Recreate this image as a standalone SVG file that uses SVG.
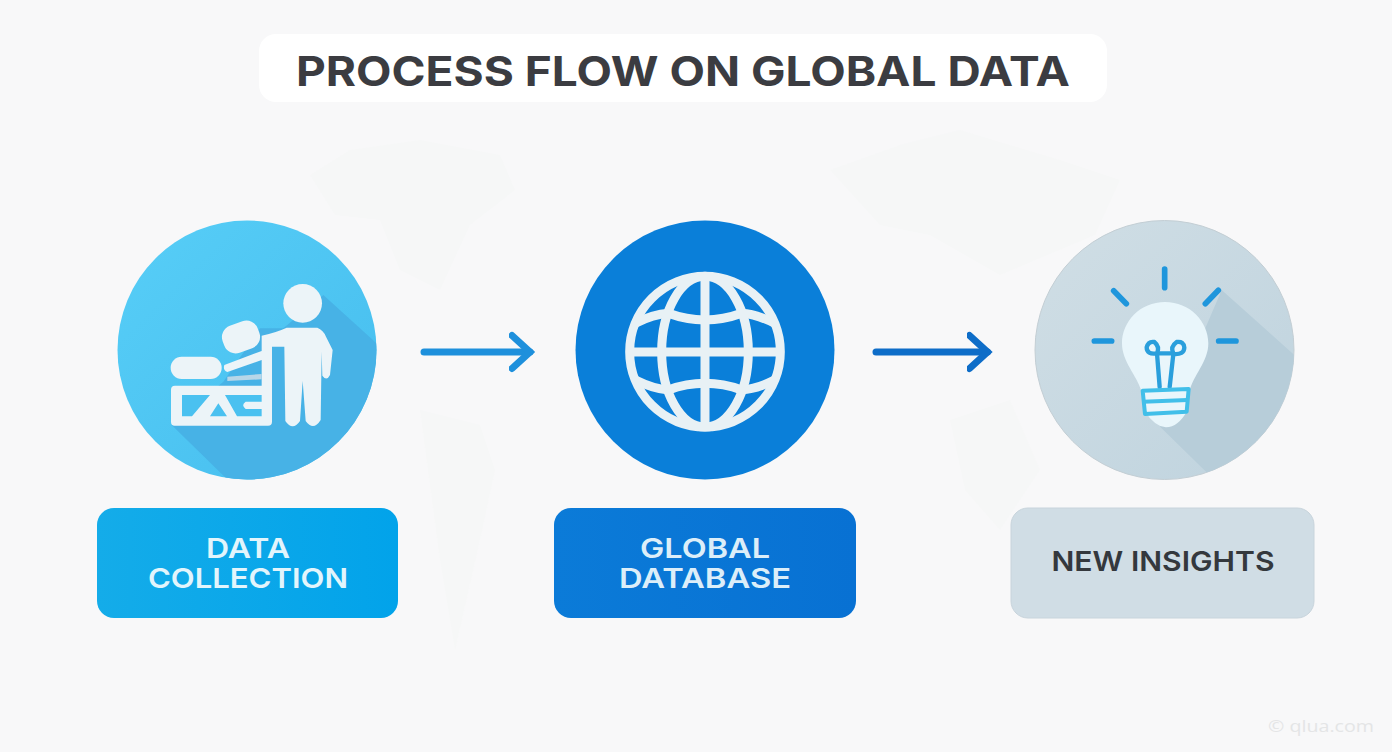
<svg xmlns="http://www.w3.org/2000/svg" width="1392" height="752" viewBox="0 0 1392 752">
<style>
.lbl{font-family:"Inter","Liberation Sans",sans-serif;font-weight:600;font-size:27.5px;text-anchor:middle}
.ic{fill:#ecf4f8}
.conn{fill:none;stroke-linecap:round}
</style>
<defs>
<linearGradient id="g1" x1="0" y1="0" x2="1" y2="1"><stop offset="0" stop-color="#57cef7"/><stop offset="1" stop-color="#46bdee"/></linearGradient>
<linearGradient id="g3" x1="0" y1="0" x2="1" y2="1"><stop offset="0" stop-color="#d0dee5"/><stop offset="1" stop-color="#bfd3de"/></linearGradient>
<linearGradient id="r1" x1="0" y1="0" x2="1" y2="0"><stop offset="0" stop-color="#14ace9"/><stop offset="1" stop-color="#02a3ea"/></linearGradient>
<linearGradient id="r2" x1="0" y1="0" x2="1" y2="0"><stop offset="0" stop-color="#0b7bd8"/><stop offset="1" stop-color="#0871d3"/></linearGradient>
<clipPath id="c1"><circle cx="247" cy="350" r="129.5"/></clipPath>
<clipPath id="c3"><circle cx="1164.5" cy="350" r="129.5"/></clipPath>
<marker id="ah" markerUnits="userSpaceOnUse" markerWidth="40" markerHeight="50" refX="21" refY="25" orient="auto"><path d="M3,8.5 L21,25 L3,41.5" fill="none" stroke="context-stroke" stroke-width="7" stroke-linecap="round" stroke-linejoin="miter"/></marker>
</defs>
<rect width="1392" height="752" fill="#f8f8f9"/>
<g id="map" fill="#f6f7f7">
<path d="M310,175 L350,150 L420,140 L500,155 L515,190 L470,225 L440,290 L400,270 L380,220 L335,215Z"/>
<path d="M420,410 L480,425 L495,470 L480,540 L455,650 L440,560Z"/>
<path d="M830,170 L900,145 L960,130 L1060,160 L1120,180 L1095,235 L1000,275 L930,235 L880,225Z"/>
<path d="M950,420 L1010,400 L1040,470 L1000,530 L965,490Z"/>
</g>
<g id="title">
<rect x="259" y="34" width="848" height="68" rx="17" fill="#fff"/>
<text x="683" y="86" text-anchor="middle" textLength="774" lengthAdjust="spacingAndGlyphs" font-family="Inter,'Liberation Sans',sans-serif" font-weight="700" font-size="41" fill="#3b3c41">PROCESS FLOW ON GLOBAL DATA</text>
</g>
<g id="connectors" class="conn">
<path d="M424,352 H530" stroke="#1e90dc" stroke-width="7" marker-end="url(#ah)"/>
<path d="M876,352 H987.5" stroke="#0e6dc8" stroke-width="7" marker-end="url(#ah)"/>
</g>
<g id="node-data-collection">
<circle cx="247" cy="350" r="129.5" fill="url(#g1)"/>
<g clip-path="url(#c1)"><g transform="translate(110 215) scale(.33333)">
<path d="M640,240 L860,440 L860,860 L420,860 L185,630 L340,500 L450,340 L520,340Z" fill="#47b2e6"/>
<circle cx="578" cy="265" r="58" class="ic"/>
<path d="M455,362 Q500,352 530,338 H622 Q640,345 648,365 L668,405 L660,480 Q650,500 637,482 L635,410 L632,615 Q610,650 587,618 L578,498 L570,618 Q548,650 526,618 L523,395 H486 V620 Q486,632 474,632 H194 Q183,632 183,620 V524 Q183,512 195,512 H455 V435 L352,471 Q338,465 343,450 L455,408Z" class="ic"/>
<path d="M216,540 H300 L246,604 H216Z M325,565 L351,604 H300Z M345,540 H455 V560 H407 Q392,570 407,582 H455 V604 H381Z" fill="#4ac1f0"/>
<rect x="182" y="425" width="153" height="67" rx="33" class="ic"/>
<rect x="337" y="323" width="112" height="86" rx="36" transform="rotate(-20 393 366)" class="ic"/>
<path d="M352,485 L455,477 V493 L352,498Z" fill="#b7d6e8"/>
</g></g>
</g>
<g id="node-global-database">
<circle cx="705" cy="350" r="129.5" fill="#0a7fd9"/>
<g transform="translate(570 215) scale(.33333)" fill="none" stroke="#e8f1f5" stroke-width="27">
<circle cx="405" cy="410" r="226"/>
<ellipse cx="405" cy="410" rx="130" ry="226"/>
<path d="M405,184 V636 M179,411 H631"/>
<path d="M198,324 Q250,298 295,295 Q350,315 405,315 Q460,315 515,295 Q560,298 612,324"/>
<path d="M198,496 Q250,522 295,525 Q350,505 405,505 Q460,505 515,525 Q560,522 612,496"/>
</g>
</g>
<g id="node-new-insights">
<circle cx="1164.5" cy="350" r="129.5" fill="url(#g3)" stroke="#c3ced4" stroke-width="1"/>
<g clip-path="url(#c3)"><g transform="translate(1030 215) scale(.33333)">
<path d="M575,225 L860,480 L860,860 L620,860 L390,635 L530,330Z" fill="#b7cdd9"/>
</g></g>
<g transform="translate(1030 215) scale(.33333)">
<path d="M405,261 C480,261 535,320 535,385 C535,440 490,480 478,530 L470,590 Q445,635 408,637 Q375,635 345,590 L335,530 C320,480 276,440 276,385 C276,320 330,261 405,261Z" fill="#e9f6fb"/>
<g fill="none" stroke="#1f96dc" stroke-width="17" stroke-linecap="round">
<path d="M404,162 V218 M251,227 L289,266 M565,226 L526,266 M193,378 H245 M566,378 H618"/>
</g>
<g fill="none" stroke="#2a9fdc" stroke-width="13" stroke-linecap="round">
<path d="M389,516 L381,415 Q350,420 350,397 Q355,378 373,381 Q390,395 381,415 H430 Q420,395 440,381 Q462,378 463,398 Q462,420 430,417 L419,516"/>
</g>
<g fill="none" stroke="#41bfe9" stroke-width="12" stroke-linejoin="round">
<path d="M338,527 L476,522 L470,590 L345,597Z"/>
<path d="M340,560 L472,555"/>
</g>
</g>
</g>
<g id="label-data-collection">
<rect x="97" y="508" width="301" height="110" rx="17" fill="url(#r1)"/>
<text class="lbl" x="248" y="557.5" fill="#e2f5fc" textLength="84" lengthAdjust="spacingAndGlyphs">DATA</text>
<text class="lbl" x="248" y="588" fill="#e2f5fc" textLength="200" lengthAdjust="spacingAndGlyphs">COLLECTION</text>
</g>
<g id="label-global-database">
<rect x="554" y="508" width="302" height="110" rx="17" fill="url(#r2)"/>
<text class="lbl" x="705" y="557.5" fill="#dceef9" textLength="130" lengthAdjust="spacingAndGlyphs">GLOBAL</text>
<text class="lbl" x="705" y="588" fill="#dceef9" textLength="172" lengthAdjust="spacingAndGlyphs">DATABASE</text>
</g>
<g id="label-new-insights">
<rect x="1011" y="508" width="303" height="110" rx="17" fill="#d0dde5" stroke="#c8d4dc"/>
<text class="lbl" x="1163" y="571" fill="#34383d" textLength="223" lengthAdjust="spacingAndGlyphs">NEW INSIGHTS</text>
</g>
<text id="watermark" x="1268" y="732" font-family="'Open Sans','Liberation Sans',sans-serif" font-size="17" fill="#e4e5e6" textLength="106" lengthAdjust="spacingAndGlyphs">© qlua.com</text>
</svg>
